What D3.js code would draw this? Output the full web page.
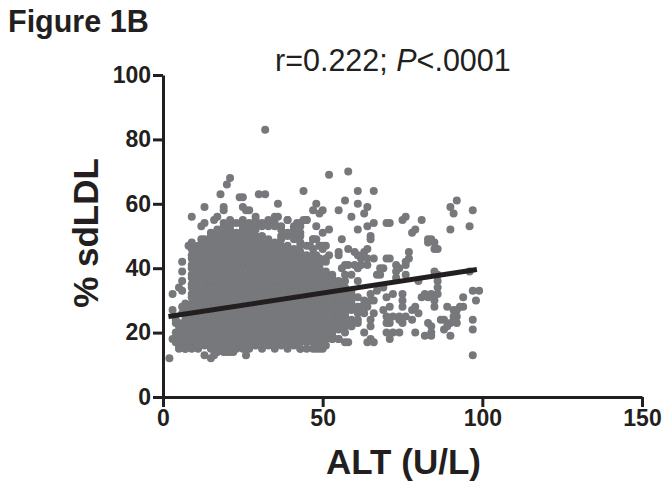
<!DOCTYPE html>
<html><head><meta charset="utf-8">
<script src="https://cdn.jsdelivr.net/npm/d3@7"></script>
<style>html,body{margin:0;padding:0;background:#fff}svg{display:block}text{font-family:"Liberation Sans",Arial,sans-serif;fill:#231f20}</style>
</head><body><div id="chart"></div>
<script>
const chartTitle = "Figure 1B";
const xLabel = "ALT (U/L)";
const yLabel = "% sdLDL";
const xTicks = [0, 50, 100, 150];
const yTicks = [0, 20, 40, 60, 80, 100];
const fitLine = [[1.7, 25], [98.3, 39.6]];

// Dense cloud: [ALT, sdLDL values observed at that ALT]
const cloudColumns = [
 [5,[16,17,19,20,22,23]],
 [7,[15,17,18,20,21,23,24,26,27,29]],
 [9,[16,17,19,20,22,23,25,26,28,29,31,32,34,35,37,38,40,41,43,44,46]],
 [11,[15,17,18,20,21,23,24,26,27,29,30,32,33,35,36,38,39,41,42,44,45,47]],
 [13,[16,17,19,20,22,23,25,26,28,29,31,32,34,35,37,38,40,41,43,44,46,47,49]],
 [15,[15,17,18,20,21,23,24,26,27,29,30,32,33,35,36,38,39,41,42,44,45,47,48,50,51]],
 [17,[14,16,17,19,20,22,23,25,26,28,29,31,32,34,35,37,38,40,41,43,44,46,47,49,50,52]],
 [19,[14,15,17,18,20,21,23,24,26,27,29,30,32,33,35,36,38,39,41,42,44,45,47,48,50,51,53,54]],
 [21,[14,16,17,19,20,22,23,25,26,28,29,31,32,34,35,37,38,40,41,43,44,46,47,49,50,52,53,55]],
 [23,[15,17,18,20,21,23,24,26,27,29,30,32,33,35,36,38,39,41,42,44,45,47,48,50,51,54]],
 [25,[15,16,17,19,20,22,23,25,26,28,29,31,32,34,35,37,38,40,41,43,44,46,47,49,50,52,53,55]],
 [27,[15,17,18,20,21,23,24,26,27,29,30,32,33,35,36,38,39,41,42,44,45,47,48,50,51,53,54]],
 [29,[16,17,19,20,22,23,25,26,28,29,31,32,34,35,37,38,40,41,43,44,46,47,49,50,52,53,55,56]],
 [31,[15,17,18,20,21,23,24,26,27,29,30,32,33,35,36,38,39,41,42,44,45,47,48,50,53,54]],
 [33,[16,17,19,20,22,23,25,26,28,29,31,32,34,35,37,38,40,41,43,44,46,47,49,53,55]],
 [35,[15,17,18,20,21,23,24,26,27,29,30,32,33,35,36,38,39,41,42,44,45,47,48,53,54,56]],
 [37,[16,17,19,20,22,23,25,26,28,29,31,32,34,35,37,38,40,41,43,44,46,47,49,50,52,53]],
 [39,[15,17,18,20,21,23,24,26,27,29,30,32,33,35,36,38,39,41,42,44,45,47,50,51,55]],
 [41,[16,17,19,20,22,23,25,26,28,29,31,32,34,35,37,38,40,41,43,44,46,49,50,52,53]],
 [43,[15,17,18,20,21,23,24,26,27,29,30,32,33,35,36,38,39,41,42,44,45,47,48,50,51,53,54]],
 [45,[15,17,19,20,22,23,25,26,28,29,31,32,34,35,37,38,40,41,43,44,47,55]],
 [47,[15,17,18,20,21,23,24,26,27,29,30,32,33,35,36,38,39,41,42,44,46,49]],
 [49,[15,17,19,20,22,23,25,26,28,29,31,32,34,35,37,38,40,41,43,47]],
 [51,[16,18,20,21,23,24,26,27,29,30,32,33,35,36,38,39,42]],
 [53,[18,19,20,22,23,25,26,28,29,31,32,34,35,37,38]],
 [55,[18,21,23,24,26,27,29,30,32,33,35,36]],
 [57,[17,20,22,23,25,26,28,29,31,32,34,36]],
 [59,[22,24,27,29,30,32,33]],
 [61,[24,26,28,31]]
];

// Separately readable points around the cloud: [ALT, sdLDL]
const edgePoints = [
 [32,83],[21,68],[20,66],[18,63],[24,62],[25,62],[30,63],[32,63],[36,60],[44,64],[52,69],[58,70],
 [48,60],[47,58],[50,58],[49,57],[13,59],[19,59],[19,58],[9,56],[17,56],[16,55],[13,54],[12,53],
 [25,59],[26,58],[27,58],[48,53],[50,51],[52,52],[8,47],[9,48],[12,49],[36,56],[39,55],[42,54],
 [45,55],[44,55],[48,49],[47,49],[50,47],[46,47],[49,47],[51,47],[50,46],
 [61,64],[66,64],[57,61],[61,60],[64,59],[63,57],[55,58],[59,56],[66,54],[64,53],[61,52],[70,54],[71,54],
 [76,56],[75,55],[81,55],[79,52],[78,51],[92,61],[90,59],[91,57],[97,58],[96,53],[90,52],
 [83,49],[84,49],[83,48],[85,48],[85,46],[86,46],[65,50],[65,49],[56,49],
 [52,44],[51,43],[48,44],[55,45],[55,44],[58,46],[64,46],[63,45],[60,45],[61,44],[62,43],[64,43],[66,43],
 [60,41],[62,41],[57,41],[56,40],[61,40],[64,41],[70,43],[71,43],[77,45],[77,43],[76,42],[73,41],[74,40],[76,41],[69,40],
 [97,13],[97,21],[97,24],[98,30],[97,33],[99,33],[96,39],[94,31],[89,28],[94,28],[93,28],[92,27],[91,27],[92,25],[91,25],
 [92,23],[90,23],[89,22],[88,21],[90,19],[87,24],[88,24],[84,22],[84,20],[82,19],[84,19],[83,23],[79,20],
 [86,36],[86,34],[85,39],[86,38],[84,32],[86,32],[82,32],[81,31],[83,31],[85,30],[85,28],
 [79,28],[78,27],[80,26],[78,24],[76,25],[75,32],[75,30],[75,28],[72,32],[70,31],[71,28],[69,27],
 [65,32],[67,33],[69,34],[65,30],[66,30],[63,30],[64,28],[66,26],[63,26],[62,28],[61,36],[59,38],[57,38],[58,41],
 [68,40],[67,38],[68,38],[73,39],[76,38],[80,36],[73,37],
 [65,24],[65,22],[63,20],[65,18],[66,17],[64,17],[70,25],[70,23],[71,23],[72,25],[74,25],[75,23],[74,24],[70,20],[71,18],[72,20],[74,20],
 [61,23],[59,22],[58,17],[55,18],[53,18],[50,15],[48,15],
 [2,12],[3,18],[3,27],[3,32],[5,34],[6,36],[6,39],[6,42],[6,33],
 [13,13],[15,12],[16,13],[20,14],[22,14],[26,13],[43,15],[5,15],[7,15],[9,15],[4,17],[4,20],[4,23],[4,24],[6,26],[6,28]
];

const width = 670, height = 490;
const x = d3.scaleLinear().domain([0, 150]).range([163, 642]);
const y = d3.scaleLinear().domain([0, 100]).range([397, 75]);

const svg = d3.select("#chart").append("svg").attr("width", width).attr("height", height);

const allPoints = cloudColumns.flatMap(([a, ys]) => ys.map(v => [a, v])).concat(edgePoints);
svg.append("g").selectAll("circle").data(allPoints).join("circle")
  .attr("cx", d => x(d[0])).attr("cy", d => y(d[1])).attr("r", 4).attr("fill", "#77787b");

svg.append("line")
  .attr("x1", x(fitLine[0][0])).attr("y1", y(fitLine[0][1]))
  .attr("x2", x(fitLine[1][0])).attr("y2", y(fitLine[1][1]))
  .attr("stroke", "#231f20").attr("stroke-width", 5);

const xAxis = svg.append("g").attr("transform", `translate(0,${y(0)})`)
  .call(d3.axisBottom(x).tickValues(xTicks).tickSize(10).tickPadding(3).tickSizeOuter(0));
const yAxis = svg.append("g").attr("transform", `translate(${x(0)},0)`)
  .call(d3.axisLeft(y).tickValues(yTicks).tickSize(10).tickPadding(2).tickSizeOuter(0));
[xAxis, yAxis].forEach(g => {
  g.select(".domain").attr("stroke", "#231f20").attr("stroke-width", 3);
  g.selectAll(".tick line").attr("stroke", "#231f20").attr("stroke-width", 3);
  g.selectAll(".tick text").style("font-size", "23px").style("font-weight", "700")
    .style("font-family", '"Liberation Sans"').attr("fill", "#231f20");
});

svg.append("text").attr("x", 8).attr("y", 32).style("font-size", "30.5px").style("font-weight", "700").text(chartTitle);
const stat = svg.append("text").attr("x", 275).attr("y", 71).style("font-size", "30.5px");
stat.append("tspan").text("r=0.222; ");
stat.append("tspan").style("font-style", "italic").text("P");
stat.append("tspan").text("<.0001");
svg.append("text").attr("x", 403.5).attr("y", 474).attr("text-anchor", "middle")
  .style("font-size", "35px").style("font-weight", "700").text(xLabel);
svg.append("text").attr("transform", "translate(98,233) rotate(-90)").attr("text-anchor", "middle")
  .style("font-size", "35px").style("font-weight", "700").text(yLabel);
</script></body></html>
